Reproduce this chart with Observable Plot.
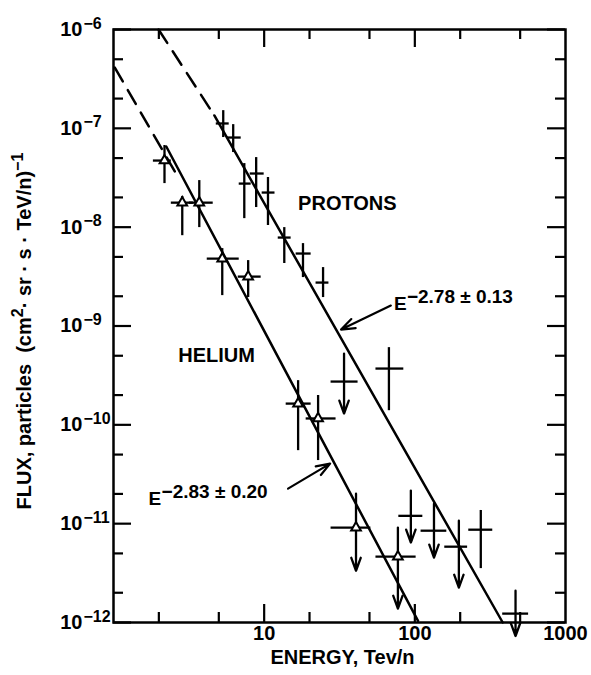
<!DOCTYPE html>
<html><head><meta charset="utf-8">
<script src="https://cdn.jsdelivr.net/npm/d3@7"></script>
<script src="https://cdn.jsdelivr.net/npm/@observablehq/plot@0.6"></script>
<style>body{margin:0;background:#fff} svg{display:block;background:#fff}</style>
</head><body><div id="chart"></div>
<script>
// ---- Helium points (energy TeV/n, flux) ----
const heE    = [2.18, 2.86, 3.71, 5.27, 7.83, 16.8, 22.8, 40.7, 77.2];
const heElo  = [1.84, 2.42, 3.19, 4.19, 6.73, 14.0, 19.0, 27.8, 55.2];
const heEhi  = [2.42, 3.39, 4.59, 6.83, 9.55, 20.5, 30.0, 51.1, 102];
const heF    = [4.72e-8, 1.77e-8, 1.77e-8, 4.81e-9, 3.16e-9, 1.64e-10, 1.16e-10, 9.12e-12, 4.63e-12];
const heFhi  = [6.70e-8, 2.04e-8, 2.96e-8, 6.07e-9, 4.59e-9, 2.80e-10, 1.98e-10, 2.01e-11, 9.12e-12];
const heFlo  = [2.76e-8, 8.2e-9, 9.9e-9, 2.03e-9, 1.94e-9, 5.48e-11, 4.35e-11, 3.34e-12, 1.38e-12];
const heLimit = [false, false, false, false, false, false, false, true, true];

// ---- Proton points ----
const pE    = [5.35, 6.23, 7.38, 8.85, 10.6, 13.6, 18.1, 24.6, 33.9, 67.3, 94.1, 134, 196, 274, 466];
const pElo  = [4.81, 5.69, 6.83, 8.08, 9.70, 12.4, 16.3, 22.1, 27.8, 55.2, 78.3, 110, 158, 228, 383];
const pEhi  = [5.86, 7.04, 8.20, 10.0, 11.8, 15.1, 20.5, 26.9, 42.0, 84.5, 113, 163, 224, 329, 569];
const pF    = [1.12e-7, 8.07e-8, 2.76e-8, 3.49e-8, 2.24e-8, 7.85e-9, 5.41e-9, 2.75e-9, 2.74e-10, 3.71e-10, 1.20e-11, 8.49e-12, 5.85e-12, 8.69e-12, 1.23e-12];
const pFhi  = [1.51e-7, 1.09e-7, 4.40e-8, 5.06e-8, 3.18e-8, 9.9e-9, 6.82e-9, 3.90e-9, 5.26e-10, 6.04e-10, 2.16e-11, 1.59e-11, 1.07e-11, 1.36e-11, 2.10e-12];
const pFlo  = [8.07e-8, 5.69e-8, 1.22e-8, 1.58e-8, 1.04e-8, 4.29e-9, 3.09e-9, 1.94e-9, 1.30e-10, 1.39e-10, 6.43e-12, 4.53e-12, 2.25e-12, 3.51e-12, 7.3e-13];
const pLimit = [false, false, false, false, false, false, false, false, true, false, true, true, true, false, true];

// ---- Fit lines (solid) and extrapolations (dashed) ----
const protonFitE = [4.67, 383],  protonFitF = [1.35e-7, 1e-12];
const protonExtE = [1.99, 4.67], protonExtF = [1e-6, 1.35e-7];
const heliumFitE = [2.24, 105],  heliumFitF = [6.55e-8, 1.04e-12];
const heliumExtE = [1.02, 2.69], heliumExtF = [4.12e-7, 3.18e-8];

// ---- Annotations ----
const labelNames = ["PROTONS", "HELIUM"];
const labelE = [16.8, 2.69], labelF = [1.73e-8, 5.0e-10];
const fitBase = ["E", "E"];
const fitExp = ["\u22122.78 \u00b1 0.13", "\u22122.83 \u00b1 0.20"];
const fitLabelE = [72.6, 1.71], fitLabelF = [1.67e-9, 1.77e-11];
const arrowE1 = [69.3, 14.4], arrowF1 = [1.61e-9, 2.26e-11];
const arrowE2 = [32.4, 27.4], arrowF2 = [9.2e-10, 4.05e-11];

// ---- Ticks ----
const xMajor = [10, 100];
const xMinor = [2, 5, 20, 50, 200, 500];
const xLabelVals = [10, 100, 1000];
const xLabels = ["10", "100", "1000"];
const yMajor = [1e-12, 1e-11, 1e-10, 1e-9, 1e-8, 1e-7, 1e-6];
const yExp = ["\u221212", "\u221211", "\u221210", "\u22129", "\u22128", "\u22127", "\u22126"];
const yMinor = [2e-12, 5e-12, 2e-11, 5e-11, 2e-10, 5e-10, 2e-9, 5e-9, 2e-8, 5e-8, 2e-7, 5e-7];
const xDomain = [1, 1000], yDomain = [1e-12, 1e-6];

// layout
const W = 591, H = 675, mT = 29, mB = 53, mL = 113, mR = 26;
const FW = W - mL - mR, FH = H - mT - mB;
const xDecadePx = FW / 3, yDecadePx = FH / 6;   // pixels per decade
const SW = 2.3;

// ---- Tables ----
const helium = heE.map((e, i) => ({e, elo: heElo[i], ehi: heEhi[i], f: heF[i], fhi: heFhi[i], flo: heFlo[i], limit: heLimit[i]}));
const protons = pE.map((e, i) => ({e, elo: pElo[i], ehi: pEhi[i], f: pF[i], fhi: pFhi[i], flo: pFlo[i], limit: pLimit[i]}));
const toLine = (E, F) => E.map((e, i) => ({e, f: F[i]}));
const labels = labelNames.map((t, i) => ({t, e: labelE[i], f: labelF[i]}));
const fitLabels = fitBase.map((b, i) => ({b, s: fitExp[i], e: fitLabelE[i], f: fitLabelF[i]}));
const arrows = arrowE1.map((e, i) => ({e1: e, f1: arrowF1[i], e2: arrowE2[i], f2: arrowF2[i]}));
// tick rows with pixel length (style), converted to a log-scale factor
const xTickRows = [...xMajor.map(v => ({v, len: 18})), ...xMinor.map(v => ({v, len: 10}))];
const yTickRows = [...yMajor.map(v => ({v, len: 18})), ...yMinor.map(v => ({v, len: 10}))];
const fy = d => Math.pow(10, d.len / yDecadePx);
const fx = d => Math.pow(10, d.len / xDecadePx);

const chart = Plot.plot({
  width: W, height: H,
  marginTop: mT, marginBottom: mB, marginLeft: mL, marginRight: mR,
  x: {type: "log", domain: xDomain, axis: null},
  y: {type: "log", domain: yDomain, axis: null},
  style: {fontFamily: "'Liberation Sans', Arial, Helvetica, sans-serif", fontWeight: "bold"},
  marks: [
    Plot.frame({stroke: "black", fill: "none", strokeWidth: 2.5}),

    // inward ticks on all four sides
    Plot.ruleX(xTickRows, {x: "v", y1: () => yDomain[0], y2: d => yDomain[0] * fy(d), stroke: "black", strokeWidth: 2.2}),
    Plot.ruleX(xTickRows, {x: "v", y1: () => yDomain[1], y2: d => yDomain[1] / fy(d), stroke: "black", strokeWidth: 2.2}),
    Plot.ruleY(yTickRows, {y: "v", x1: () => xDomain[0], x2: d => xDomain[0] * fx(d), stroke: "black", strokeWidth: 2.2}),
    Plot.ruleY(yTickRows, {y: "v", x1: () => xDomain[1], x2: d => xDomain[1] / fx(d), stroke: "black", strokeWidth: 2.2}),

    // tick labels
    Plot.text(yMajor, {y: d => d, frameAnchor: "left", text: () => "10", textAnchor: "end", dx: -31, fontSize: 20}),
    Plot.text(yMajor, {y: d => d, frameAnchor: "left", text: (d, i) => yExp[i], textAnchor: "start", dx: -30, dy: -6, fontSize: 16}),
    Plot.text(xLabelVals, {x: d => d, frameAnchor: "bottom", text: (d, i) => xLabels[i], dy: 17, fontSize: 20}),

    // axis titles
    Plot.text(["ENERGY, Tev/n"], {frameAnchor: "bottom", text: d => d, dy: 41, dx: 3, fontSize: 20}),
    Plot.text(["FLUX, particles  (cm^{2}\u00b7 sr \u00b7 s \u00b7 TeV/n)^{\u22121}"], {frameAnchor: "bottom-left", text: d => d, rotate: -90, textAnchor: "start", dx: -83, dy: -113, fontSize: 20, letterSpacing: 2}),

    // fit lines
    Plot.line(toLine(protonExtE, protonExtF), {x: "e", y: "f", stroke: "black", strokeWidth: 2.5, strokeDasharray: "16,10"}),
    Plot.line(toLine(heliumExtE, heliumExtF), {x: "e", y: "f", stroke: "black", strokeWidth: 2.5, strokeDasharray: "16,10"}),
    Plot.line(toLine(protonFitE, protonFitF), {x: "e", y: "f", stroke: "black", strokeWidth: 2.5}),
    Plot.line(toLine(heliumFitE, heliumFitF), {x: "e", y: "f", stroke: "black", strokeWidth: 2.5}),

    // proton error crosses
    Plot.ruleY(protons, {y: "f", x1: "elo", x2: "ehi", stroke: "black", strokeWidth: SW}),
    Plot.ruleX(protons.filter(d => !d.limit), {x: "e", y1: "flo", y2: "fhi", stroke: "black", strokeWidth: SW}),
    Plot.arrow(protons.filter(d => d.limit), {x: "e", y1: "fhi", y2: "flo", stroke: "black", strokeWidth: SW, headLength: 9, headAngle: 40}),

    // helium error crosses + triangles
    Plot.ruleY(helium, {y: "f", x1: "elo", x2: "ehi", stroke: "black", strokeWidth: SW}),
    Plot.ruleX(helium.filter(d => !d.limit), {x: "e", y1: "flo", y2: "fhi", stroke: "black", strokeWidth: SW}),
    Plot.arrow(helium.filter(d => d.limit), {x: "e", y1: "fhi", y2: "flo", stroke: "black", strokeWidth: SW, headLength: 9, headAngle: 40}),
    Plot.dot(helium, {x: "e", y: "f", symbol: "triangle", r: 3.6, fill: "white", stroke: "black", strokeWidth: 2}),

    // annotations
    Plot.text(labels, {x: "e", y: "f", text: "t", textAnchor: "start", fontSize: 20}),
    Plot.text(fitLabels, {x: "e", y: "f", text: "b", textAnchor: "start", fontSize: 19}),
    Plot.text(fitLabels, {x: "e", y: "f", text: "s", textAnchor: "start", dx: 13, dy: -7, fontSize: 19, letterSpacing: 3.3}),
    Plot.arrow(arrows, {x1: "e1", y1: "f1", x2: "e2", y2: "f2", stroke: "black", strokeWidth: 2.2, headLength: 10, headAngle: 40})
  ]
});

// turn ^{...} into raised tspans
d3.select(chart).selectAll("text").each(function () {
  const s = this.textContent;
  if (!s.includes("^{")) return;
  const el = d3.select(this);
  el.text(null);
  let cur = 0;
  s.split(/\^\{|\}/).forEach((p, i) => {
    if (!p) return;
    const sup = i % 2 === 1;
    const want = sup ? -8 : 0;
    const t = el.append("tspan").attr("dy", want - cur).text(p);
    if (sup) t.attr("font-size", 16);
    cur = want;
  });
});

document.getElementById("chart").append(chart);
</script>
</body></html>
